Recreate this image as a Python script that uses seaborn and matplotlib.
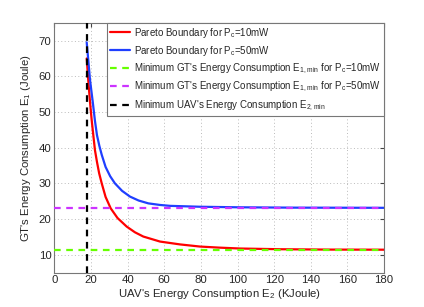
import numpy as np
import pandas as pd
import matplotlib
matplotlib.use('Agg')
import matplotlib.pyplot as plt
import seaborn as sns

# values
e2_red = [17.7, 18.6, 19.5, 20.4, 21.3, 22.2, 23.3, 24.5, 25.9, 28.0, 30.8, 34.5,
          39.5, 44.0, 48.6, 57.7, 68.6, 79.5, 90.0, 101.4, 123.2, 150.0, 180.0]
e1_red = [65.0, 58.5, 52.8, 47.8, 43.5, 39.3, 36.0, 32.8, 30.0, 26.2, 23.0, 20.3,
          17.9, 16.3, 15.1, 13.7, 12.9, 12.3, 12.0, 11.75, 11.55, 11.45, 11.42]

e2_blue = [17.7, 18.3, 19.5, 21.0, 22.2, 23.3, 24.6, 25.9, 28.0, 30.5, 33.1, 37.0,
           41.3, 46.0, 51.3, 57.7, 63.2, 79.5, 100.0, 130.0, 180.0]
e1_blue = [69.5, 66.0, 59.0, 52.8, 47.5, 43.5, 40.5, 38.0, 34.6, 32.0, 30.0, 27.9,
           26.3, 25.2, 24.4, 23.95, 23.7, 23.45, 23.3, 23.2, 23.15]

e1_min_10mw = 11.4
e1_min_50mw = 23.1
e2_min = 17.7

labels = [r'Pareto Boundary for P$_\mathregular{c}$=10mW',
          r'Pareto Boundary for P$_\mathregular{c}$=50mW',
          r"Minimum GT's Energy Consumption E$_\mathregular{1,min}$ for P$_\mathregular{c}$=10mW",
          r"Minimum GT's Energy Consumption E$_\mathregular{1,min}$ for P$_\mathregular{c}$=50mW",
          r"Minimum UAV's Energy Consumption E$_\mathregular{2,min}$"]

sns.set_style('white')
plt.rcParams['font.family'] = ['Liberation Sans', 'DejaVu Sans']
plt.rcParams['mathtext.fontset'] = 'custom'
plt.rcParams['mathtext.rm'] = 'Liberation Sans'

fig = plt.figure(figsize=(4.24, 3.07), dpi=100)
ax = fig.add_axes([0.128, 0.112, 0.778, 0.814])

df_red = pd.DataFrame({'E2': e2_red, 'E1': e1_red})
df_blue = pd.DataFrame({'E2': e2_blue, 'E1': e1_blue})

ax.axhline(e1_min_10mw, color='#66ff00', ls=(0, (3, 2.5)), lw=1.6, label=labels[2], zorder=3)
ax.axhline(e1_min_50mw, color='#cc33ff', ls=(0, (3, 2.5)), lw=1.6, label=labels[3], zorder=3)
sns.lineplot(data=df_red, x='E2', y='E1', ax=ax, color='#ff0000', lw=1.6,
             label=labels[0], sort=False, estimator=None, zorder=2)
sns.lineplot(data=df_blue, x='E2', y='E1', ax=ax, color='#1f3fff', lw=1.6,
             label=labels[1], sort=False, estimator=None, zorder=2)
ax.axvline(e2_min, color='black', ls=(0, (3, 2.5)), lw=1.6, label=labels[4], zorder=4)

ax.set_xlim(0, 180)
ax.set_ylim(5, 75)
ax.set_xticks(np.arange(0, 181, 20))
ax.set_yticks(np.arange(10, 71, 10))
ax.grid(True, ls=(0, (1, 2.5)), color='#bbbbbb', lw=0.7)
ax.tick_params(direction='in', top=True, right=True, length=3, labelsize=8.2,
               color='#444444', pad=2)
for s in ax.spines.values():
    s.set_color('#777777')
    s.set_linewidth(0.8)

ax.set_xlabel(r"UAV's Energy Consumption E$_\mathregular{2}$ (KJoule)", fontsize=8.2, labelpad=1)
ax.set_ylabel(r"GT's Energy Consumption E$_\mathregular{1}$ (Joule)", fontsize=8.2, labelpad=4)

h, l = ax.get_legend_handles_labels()
order = [l.index(x) for x in labels]
leg = ax.legend([h[i] for i in order], [l[i] for i in order], loc='upper right',
                fontsize=7.0, frameon=True, fancybox=False, borderaxespad=0,
                framealpha=1, handlelength=2.1, handletextpad=0.45,
                labelspacing=0.42, borderpad=0.3)
leg.get_frame().set_edgecolor('#777777')
leg.get_frame().set_linewidth(0.8)

fig.savefig('out.png', dpi=100)
